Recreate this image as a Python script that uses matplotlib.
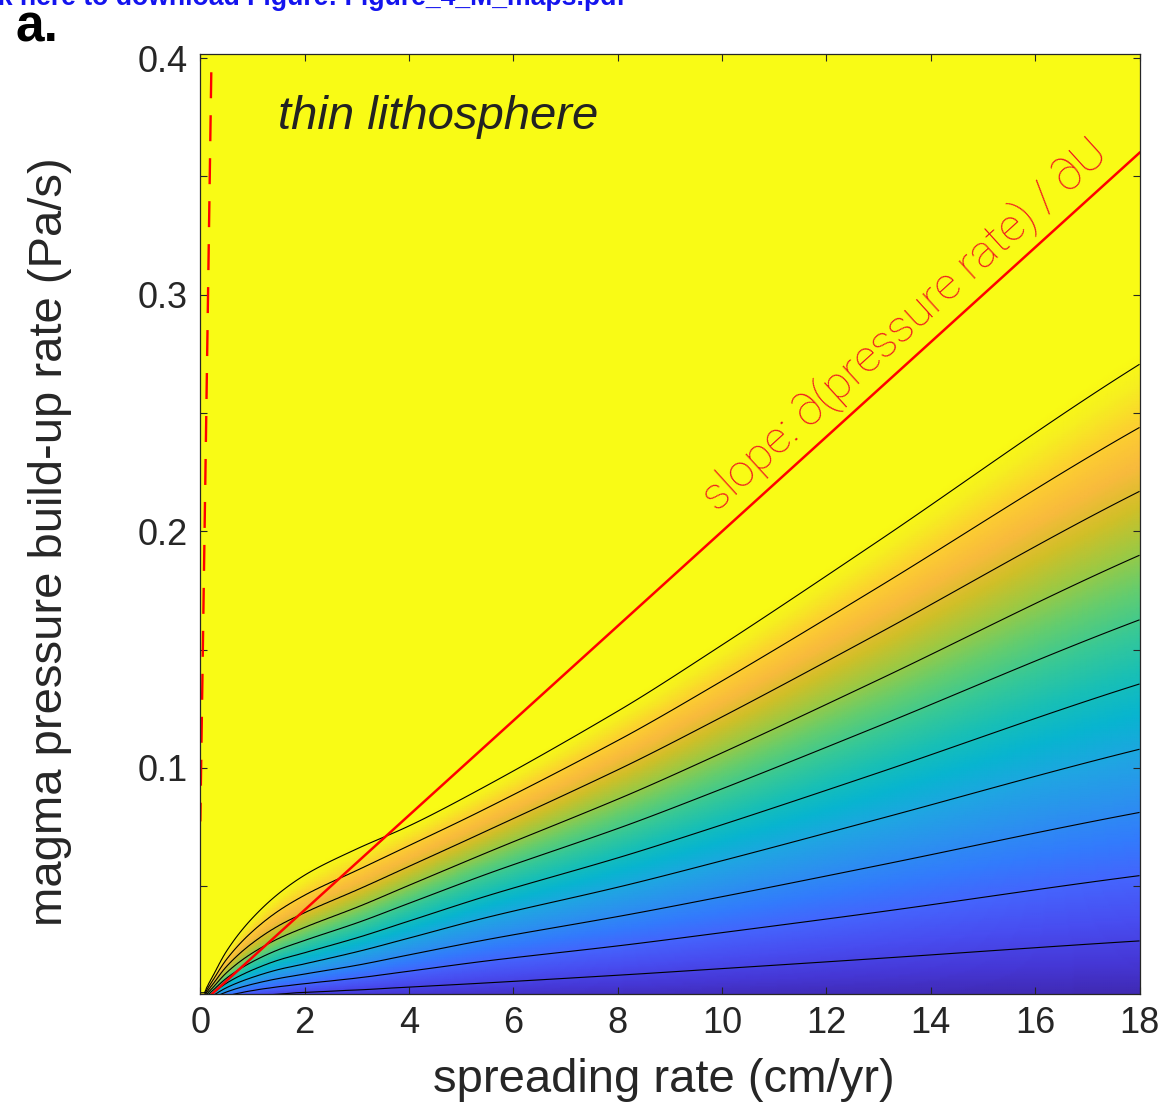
import numpy as np
import matplotlib
matplotlib.use("Agg")
import matplotlib.pyplot as plt
from matplotlib.colors import LinearSegmentedColormap

plt.rcParams['font.family'] = ['Liberation Sans', 'DejaVu Sans']

# spreading rate samples (cm/yr) where contour heights were taken
sample_x = [0.08, 0.25, 0.5, 1.0, 1.5, 2.0, 3.0, 4.0, 5.36, 8.0, 10.0, 13.0, 18.0]

# pressure build-up rate (Pa/s) of contour levels 1..10 at each sample_x
level_y = [
    [0.0005, 0.0012, 0.0021, 0.0035, 0.0045, 0.0052, 0.0062, 0.0074, 0.0090, 0.0124, 0.0152, 0.0195, 0.0269],
    [0.0008, 0.0020, 0.0036, 0.0059, 0.0075, 0.0088, 0.0112, 0.0141, 0.0181, 0.0248, 0.0304, 0.0391, 0.0545],
    [0.0012, 0.0029, 0.0053, 0.0086, 0.0110, 0.0129, 0.0166, 0.0210, 0.0269, 0.0372, 0.0456, 0.0588, 0.0812],
    [0.0016, 0.0039, 0.0071, 0.0115, 0.0148, 0.0172, 0.0223, 0.0281, 0.0361, 0.0496, 0.0608, 0.0784, 0.1079],
    [0.0020, 0.0050, 0.0090, 0.0146, 0.0188, 0.0219, 0.0282, 0.0353, 0.0450, 0.0620, 0.0760, 0.0980, 0.1355],
    [0.0025, 0.0062, 0.0111, 0.0181, 0.0232, 0.0271, 0.0345, 0.0428, 0.0541, 0.0744, 0.0912, 0.1177, 0.1626],
    [0.0030, 0.0074, 0.0134, 0.0218, 0.0279, 0.0326, 0.0411, 0.0504, 0.0630, 0.0868, 0.1064, 0.1373, 0.1899],
    [0.0036, 0.0089, 0.0160, 0.0260, 0.0333, 0.0388, 0.0484, 0.0584, 0.0721, 0.0992, 0.1216, 0.1569, 0.2169],
    [0.0042, 0.0106, 0.0190, 0.0309, 0.0396, 0.0462, 0.0567, 0.0672, 0.0816, 0.1116, 0.1368, 0.1765, 0.2439],
    [0.0050, 0.0125, 0.0225, 0.0366, 0.0469, 0.0547, 0.0658, 0.0755, 0.0910, 0.1240, 0.1520, 0.1960, 0.2706],
]
levels = list(range(1, 11))

# slope line and the dashed steep line
slope = 0.02
slope_x = [0.0, 18.0]
dash_x = [0.21, 0.0]
dash_y = [0.394, 0.0774]

x_ticks = [0, 2, 4, 6, 8, 10, 12, 14, 16, 18]
y_ticks = [0.1, 0.2, 0.3, 0.4]
y_minor = [0.05, 0.15, 0.25, 0.35]

# MATLAB parula (2014b), every 4th entry
parula_rgb = [
    [0.2422, 0.1504, 0.6603], [0.2706, 0.2147, 0.8364], [0.2813, 0.3006, 0.9414],
    [0.2699, 0.3892, 0.9906], [0.1963, 0.4847, 0.9892], [0.1687, 0.5703, 0.9359],
    [0.1248, 0.6459, 0.8883], [0.0297, 0.7082, 0.8163], [0.0964, 0.7500, 0.7120],
    [0.2161, 0.7843, 0.5923], [0.3909, 0.8029, 0.4354], [0.6174, 0.7876, 0.2612],
    [0.8203, 0.7498, 0.1535], [0.9728, 0.7298, 0.2394], [0.9892, 0.8136, 0.1885],
    [0.9628, 0.9373, 0.1265], [0.9769, 0.9839, 0.0805],
]
parula_pos = [i * 4 / 63 for i in range(16)] + [1.0]
parula = LinearSegmentedColormap.from_list('parula', list(zip(parula_pos, parula_rgb)))


def pchip(xk, yk, x):
    # monotone cubic hermite (Fritsch-Carlson), no scipy needed
    xk = np.asarray(xk, float)
    yk = np.asarray(yk, float)
    x = np.clip(np.asarray(x, float), xk[0], xk[-1])
    h = np.diff(xk)
    d = np.diff(yk) / h
    m = np.zeros_like(yk)
    m[0], m[-1] = d[0], d[-1]
    for i in range(1, len(xk) - 1):
        if d[i - 1] * d[i] > 0:
            w1 = 2 * h[i] + h[i - 1]
            w2 = h[i] + 2 * h[i - 1]
            m[i] = (w1 + w2) / (w1 / d[i - 1] + w2 / d[i])
    i = np.clip(np.searchsorted(xk, x) - 1, 0, len(xk) - 2)
    t = (x - xk[i]) / h[i]
    h00 = 2 * t**3 - 3 * t**2 + 1
    h10 = t**3 - 2 * t**2 + t
    h01 = -2 * t**3 + 3 * t**2
    h11 = t**3 - t**2
    return h00 * yk[i] + h10 * h[i] * m[i] + h01 * yk[i + 1] + h11 * h[i] * m[i + 1]


# build the map: in each column the level grows piecewise-linearly with height
xg = np.linspace(0, 18, 451)
yg = np.linspace(0, 0.41, 411)
sx = np.sqrt(np.array(sample_x))
heights = np.array([pchip(sx, row, np.sqrt(xg)) for row in level_y])
Z = np.zeros((len(yg), len(xg)))
lv = [0.0] + levels + [20.0]
for j in range(len(xg)):
    h = list(heights[:, j])
    hy = [0.0] + h + [h[-1] + 10 * (h[-1] - h[-2])]
    Z[:, j] = np.interp(yg, hy, lv)

fig = plt.figure(figsize=(11.64, 11.17), dpi=100)
ax = fig.add_axes([0.1721, 0.1104, 0.8069, 0.8410])

ax.pcolormesh(xg, yg, Z, cmap=parula, vmin=0, vmax=10.2, shading='gouraud', rasterized=True)
ax.contour(xg, yg, Z, levels=levels, colors='k', linewidths=0.8)

sy = [slope * v for v in slope_x]
ax.plot(slope_x, sy, color='#ff0000', lw=1.8)
ax.plot(dash_x, dash_y, color='#ff0000', lw=1.7, dashes=(11, 7.2))

ax.text(1.49, 0.370, 'thin lithosphere', fontsize=34, style='italic', color='#222222',
        ha='left', va='baseline')
ax.text(13.5, 0.2873, 'slope: \u2202(pressure rate) / \u2202U', fontsize=32.7, color='#f0141e',
        rotation=42.2, ha='center', va='center', rotation_mode='anchor',
        family=['Roboto', 'DejaVu Sans'], fontweight='light')

ax.set_xlim(0, 18)
ax.set_ylim(0.0046, 0.4016)
ax.set_xticks(x_ticks)
ax.set_xticklabels([str(v) for v in x_ticks])
ax.set_yticks(y_ticks)
ax.set_yticklabels([f'{v:.1f}' for v in y_ticks])
ax.set_yticks(y_minor, minor=True)
ax.tick_params(which='both', direction='in', top=True, right=True, length=5,
               width=0.8, color='#262626', labelsize=26, labelcolor='#262626')
ax.tick_params(axis='x', pad=9)
ax.tick_params(axis='y', pad=9)
for s in ax.spines.values():
    s.set_color('#262626')
    s.set_linewidth(0.9)

ax.set_xlabel('spreading rate (cm/yr)', fontsize=34, color='#262626')
ax.set_ylabel('magma pressure build-up rate (Pa/s)', fontsize=34, color='#262626')
ax.xaxis.set_label_coords(0.494, -0.068)
ax.yaxis.set_label_coords(-0.137, 0.481)

fig.text(0.013, 0.9624, 'a.', fontsize=37, fontweight='bold', color='black',
         ha='left', va='baseline')
fig.text(0.537, 0.9955, 'Click here to download Figure: Figure_4_M_maps.pdf', fontsize=19.2,
         fontweight='bold', color='#1414ee', ha='right', va='baseline')

fig.savefig('out.png', dpi=100)
